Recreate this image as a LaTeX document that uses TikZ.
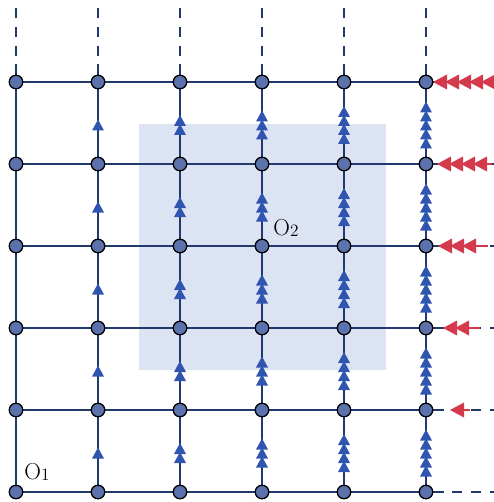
\documentclass[tikz,border=0pt]{standalone}
\pgfdeclarelayer{bg}
\pgfsetlayers{bg,main}
\definecolor{navy}{HTML}{213A6E}
\definecolor{nodefill}{HTML}{5B72AC}
\definecolor{arrblue}{HTML}{2F55B0}
\definecolor{shadebox}{HTML}{DCE3F3}
\definecolor{arrred}{HTML}{D43A4C}
\tikzset{
  gridnode/.style={circle,draw=black,fill=nodefill,line width=0.9pt,minimum size=0.33cm,inner sep=0pt},
  gridline/.style={draw=navy,line width=1.4pt},
  dashline/.style={draw=navy,line width=1.4pt,dash pattern=on 7pt off 6pt},
  bluetip/.style={fill=arrblue},
  redtip/.style={fill=arrred},
  redshaft/.style={draw=arrred,line width=1.8pt},
  lab/.style={inner sep=0pt,font=\fontsize{16}{18}\selectfont}
}
\begin{document}
\begin{tikzpicture}[x=0.02439cm,y=-0.02439cm]
\useasboundingbox (0,0) rectangle (494,502);
% nodes
\foreach \i in {0,...,5}{
  \foreach \j in {0,...,5}{
    \node[gridnode] (n\i\j) at ({16+82*\i},{492-82*\j}) {};
  }
  \coordinate (t\i) at ({16+82*\i},0);
  \coordinate (r\i) at (494,{492-82*\i});
}
\begin{pgfonlayer}{bg}
\fill[shadebox] (139,124) rectangle (386,370);
% grid lines
\foreach \i in {0,...,5}{
  \foreach \j [evaluate=\j as \jp using int(\j+1)] in {0,...,4}{
    \draw[gridline] (n\i\j) -- (n\i\jp);
    \draw[gridline] (n\j\i) -- (n\jp\i);
  }
  \draw[dashline] (n\i5) -- (t\i);
  \draw[dashline] (n5\i) -- (r\i);
}
% red arrows: row, count, tip x, shaft end x
\foreach \row/\tipx/\endx in {1/450/470,2/443/480,3/438/488,4/437/492,5/433/494}{
  \pgfmathsetmacro{\yy}{492-82*\row}
  \draw[redshaft] (\tipx+4,\yy) -- (\endx,\yy);
  \foreach \k in {1,...,\row}{
    \pgfmathsetmacro{\tx}{\tipx+12*(\k-1)}
    \fill[redtip] (\tx,\yy) -- (\tx+14,\yy-7.5) -- (\tx+14,\yy+7.5) -- cycle;
  }
}
% blue arrows on vertical edges
\foreach \col in {1,...,5}{
  \pgfmathsetmacro{\xx}{16+82*\col}
  \pgfmathsetmacro{\L}{11+9*(\col-1)}
  \foreach \e in {1,...,5}{
    \pgfmathsetmacro{\yup}{492-82*\e}
    \foreach \k in {1,...,\col}{
      \pgfmathsetmacro{\tt}{\yup+43-\L/2+9*(\k-1)}
      \fill[bluetip] (\xx,\tt) -- (\xx-6,\tt+11) -- (\xx+6,\tt+11) -- cycle;
    }
  }
}
\end{pgfonlayer}
\node[lab] (o1) at (37,472) {O\raisebox{-1.2pt}{\fontsize{12}{14}\selectfont 1}};
\node[lab] (o2) at (286,228) {O\raisebox{-1.2pt}{\fontsize{12}{14}\selectfont 2}};
\end{tikzpicture}
\end{document}
